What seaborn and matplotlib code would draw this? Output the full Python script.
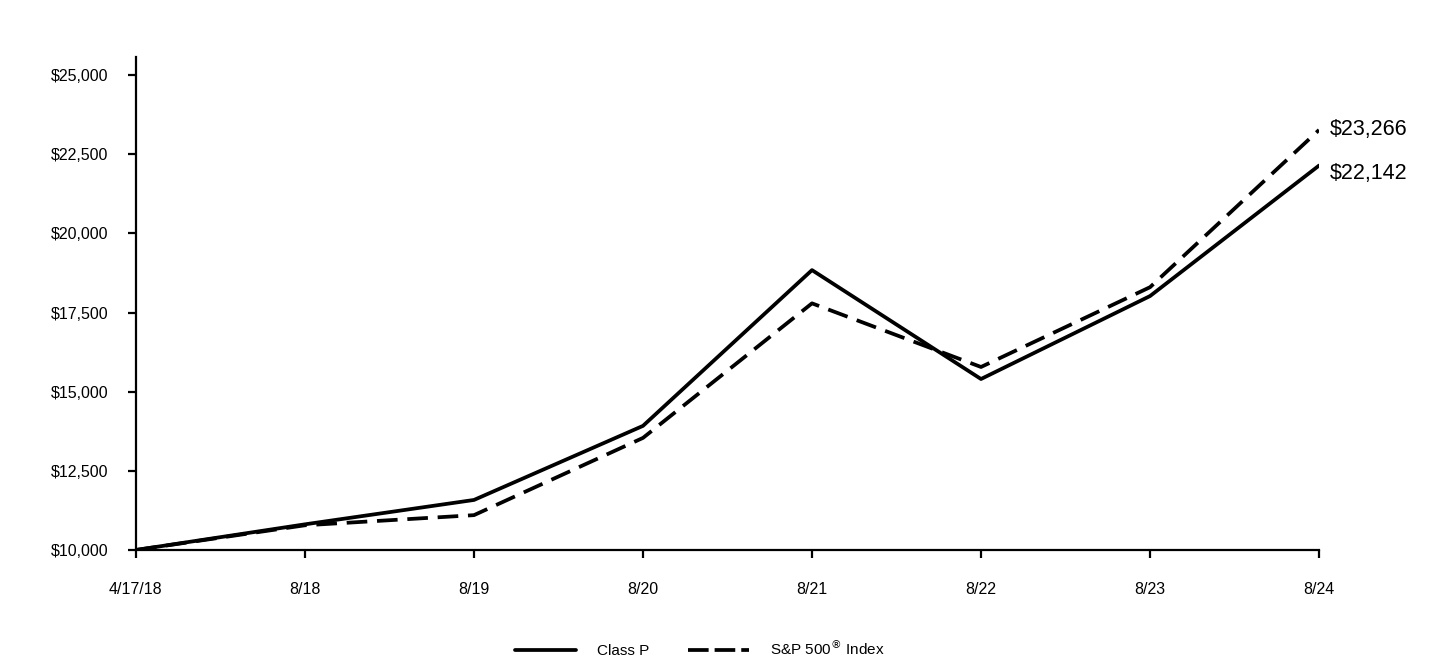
import pandas as pd
import matplotlib
matplotlib.use("Agg")
import matplotlib.pyplot as plt
import seaborn as sns

# data
dates = ["4/17/18", "8/18", "8/19", "8/20", "8/21", "8/22", "8/23", "8/24"]
class_p = [10000, 10810, 11580, 13920, 18840, 15400, 18020, 22142]
sp500 = [10000, 10780, 11100, 13540, 17790, 15780, 18300, 23266]
series_names = ["Class P", "S&P 500$^{\u00ae}$ Index"]
y_ticks = [10000, 12500, 15000, 17500, 20000, 22500, 25000]

sns.set_style("ticks")
plt.rcParams["font.family"] = ["Liberation Sans", "DejaVu Sans"]
plt.rcParams["text.color"] = "black"

df = pd.DataFrame({
    "pos": list(range(len(dates))) * 2,
    "value": class_p + sp500,
    "series": [series_names[0]] * len(dates) + [series_names[1]] * len(dates),
})

fig = plt.figure(figsize=(14.4, 6.6), dpi=100)
ax = fig.add_axes([0.0944, 0.1667, 0.8216, 0.7469])

sns.lineplot(data=df, x="pos", y="value", hue="series", style="series",
             palette=["black", "black"], dashes=[(None, None), (5.5, 2.6)],
             linewidth=2.7, ax=ax, legend=False)

ax.set_xlim(0, len(dates) - 1)
ax.set_ylim(10000, 25570)
ax.set_xticks(range(len(dates)))
ax.set_xticklabels(dates)
ax.set_yticks(y_ticks)
ax.set_yticklabels([f"${v:,}" for v in y_ticks])
ax.set_xlabel("")
ax.set_ylabel("")

for s in ["top", "right"]:
    ax.spines[s].set_visible(False)
for s in ["left", "bottom"]:
    ax.spines[s].set_linewidth(1.6)
    ax.spines[s].set_color("black")
ax.tick_params(axis="both", colors="black", width=1.6, length=6, labelsize=11.5)
ax.tick_params(axis="x", pad=17)
ax.tick_params(axis="y", pad=14)

# end labels
last = len(dates) - 1
ax.annotate(f"${sp500[-1]:,}", (last, sp500[-1]), xytext=(8, 0),
            textcoords="offset points", va="center", ha="left", fontsize=15.5,
            color="black", annotation_clip=False)
ax.annotate(f"${class_p[-1]:,}", (last, class_p[-1]), xytext=(8, -6),
            textcoords="offset points", va="center", ha="left", fontsize=15.5,
            color="black", annotation_clip=False)

# legend below the chart
handles = [
    plt.Line2D([], [], color="black", lw=2.7),
    plt.Line2D([], [], color="black", lw=2.7, linestyle=(0, (5.5, 1.6))),
]
fig.legend(handles, series_names, loc="center", bbox_to_anchor=(0.486, 0.017),
           ncol=2, frameon=False, fontsize=11, handlelength=4,
           columnspacing=2.5, handletextpad=1.4)

fig.savefig("out.png", dpi=100, facecolor="white")
